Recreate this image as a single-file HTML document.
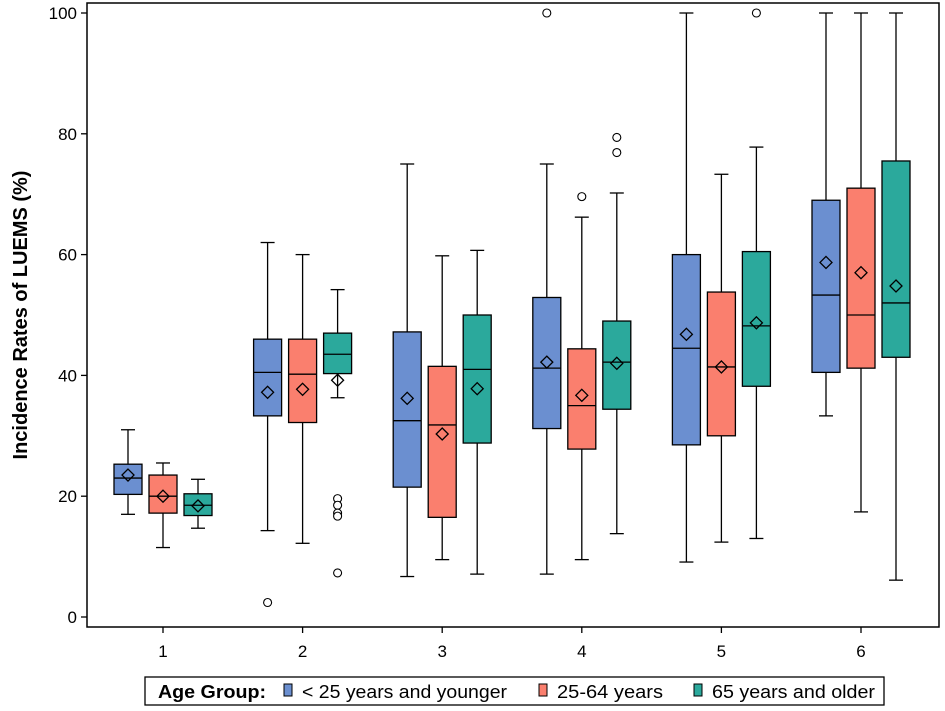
<!DOCTYPE html>
<html><head><meta charset="utf-8"><style>
body{margin:0;background:#fff;font-family:"Liberation Sans",sans-serif}
svg{display:block}
</style></head><body>
<svg id="c" width="945" height="711"></svg>
<script>
const categories=["1","2","3","4","5","6"];
const groups=["< 25 years and younger","25-64 years","65 years and older"];
const colors=["#6b8fd0","#fa7f6e","#2ba99c"];
// each: [whiskerLow, q1, median, q3, whiskerHigh, mean]
const young=[[17,20.3,23,25.3,31,23.5],[14.3,33.3,40.5,46,62,37.2],[6.7,21.5,32.5,47.2,75,36.2],[7.1,31.2,41.2,52.9,75,42.2],[9.1,28.5,44.5,60,100,46.8],[33.3,40.5,53.3,69,100,58.7]];
const mid=[[11.5,17.2,20,23.5,25.5,20],[12.2,32.2,40.2,46,60,37.7],[9.5,16.5,31.8,41.5,59.8,30.3],[9.5,27.8,35,44.4,66.2,36.7],[12.4,30,41.4,53.8,73.3,41.4],[17.4,41.2,50,71,100,57]];
const old=[[14.7,16.8,18.5,20.4,22.8,18.4],[36.3,40.3,43.5,47,54.2,39.2],[7.1,28.8,41,50,60.7,37.8],[13.8,34.4,42.2,49,70.2,42],[13,38.2,48.2,60.5,77.8,48.7],[6.1,43,52,75.5,100,54.8]];
const outYoung=[[],[2.4],[],[100],[],[]];
const outMid=[[],[],[],[69.6],[],[]];
const outOld=[[],[19.6,18.5,17.2,16.7,7.3],[],[79.4,76.9],[100],[]];
const yTicks=[0,20,40,60,80,100];
const series=[young,mid,old], outs=[outYoung,outMid,outOld];
const NS="http://www.w3.org/2000/svg", svg=document.getElementById('c');
const L=87,R=939,T=3,B=627;
const y=v=>617-v*6.04;
const x=i=>163+i*139.6;
function el(t,a,p){const e=document.createElementNS(NS,t);for(const k in a)e.setAttribute(k,a[k]);(p||svg).appendChild(e);return e;}
let frame=el('rect',{x:L,y:T,width:R-L,height:B-T,fill:'none',stroke:'#000','stroke-width':1.5});


yTicks.forEach(v=>{
 el('line',{x1:L-6,x2:L,y1:y(v),y2:y(v),stroke:'#000','stroke-width':1.3});
 const t=el('text',{x:L-10,y:y(v)+6,'text-anchor':'end','font-size':17});t.textContent=v;
 
 
});
categories.forEach((c,i)=>{
 el('line',{x1:x(i),x2:x(i),y1:B,y2:B+6,stroke:'#000','stroke-width':1.3});
 const t=el('text',{x:x(i),y:B+30,'text-anchor':'middle','font-size':17});t.textContent=c;
 
 
});
const yt=el('text',{x:0,y:0,transform:'translate(27,315) rotate(-90)','text-anchor':'middle','font-size':20,'font-weight':'bold'});
yt.textContent='Incidence Rates of LUEMS (%)';


series.forEach((s,g)=>{
 s.forEach((d,i)=>{
  const cx=x(i)+(g-1)*35, w=28;
  const grp=el('g',{});
  
  
  const st={stroke:'#000','stroke-width':1.3};
  el('line',Object.assign({x1:cx,x2:cx,y1:y(d[0]),y2:y(d[4])},st),grp);
  el('line',Object.assign({x1:cx-7,x2:cx+7,y1:y(d[0]),y2:y(d[0])},st),grp);
  el('line',Object.assign({x1:cx-7,x2:cx+7,y1:y(d[4]),y2:y(d[4])},st),grp);
  el('rect',Object.assign({x:cx-w/2,y:y(d[3]),width:w,height:y(d[1])-y(d[3]),fill:colors[g]},st),grp);
  el('line',Object.assign({x1:cx-w/2,x2:cx+w/2,y1:y(d[2]),y2:y(d[2])},st),grp);
  const my=y(d[5]);
  el('polygon',Object.assign({points:`${cx},${my-6} ${cx+6},${my} ${cx},${my+6} ${cx-6},${my}`,fill:'none'},st),grp);
  outs[g][i].forEach(v=>{
   const o=el('circle',{cx:cx,cy:y(v),r:4,fill:'#fff',stroke:'#000','stroke-width':1.1});
   
   
  });
 });
});
const lg=el('g',{});


el('rect',{x:145,y:677,width:739,height:28,fill:'#fff',stroke:'#000','stroke-width':1.3},lg);
const lt=el('text',{x:158,y:698,'font-size':18,'font-weight':'bold',textLength:108,lengthAdjust:'spacingAndGlyphs'},lg);lt.textContent='Age Group:';
const lx=[284,539,694];
const lw=[205,106,163];
groups.forEach((n,g)=>{
 const e=el('g',{},lg);
 
 
 el('rect',{x:lx[g],y:684,width:8,height:12,fill:colors[g],stroke:'#000','stroke-width':1},e);
 const t=el('text',{x:lx[g]+18,y:698,'font-size':18,textLength:lw[g],lengthAdjust:'spacingAndGlyphs'},e);t.textContent=n;
});
</script>
</body></html>
